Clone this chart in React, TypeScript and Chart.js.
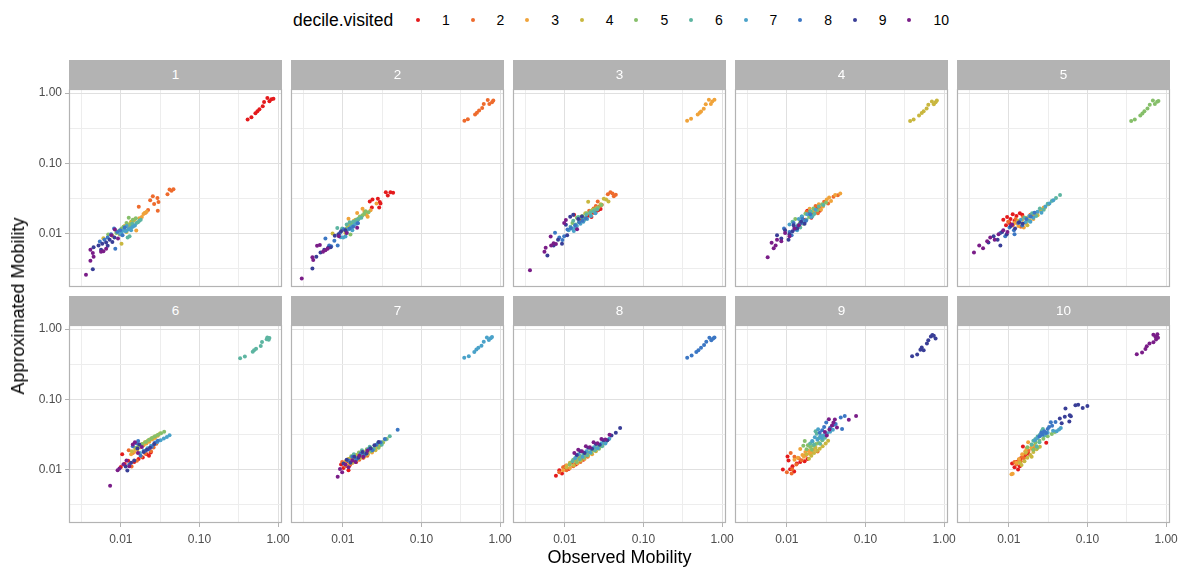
import React, { useEffect, useRef } from "react";
import { Chart, registerables } from "chart.js";

Chart.register(...registerables);

type Pt = [number, number];

// ---- data -------------------------------------------------------------
const decileLabels = ["1", "2", "3", "4", "5", "6", "7", "8", "9", "10"];
const decileColors = [
  "#E41A1C", "#EE6B2D", "#F0A33A", "#C9B73F", "#86BF6A",
  "#5DB5A1", "#4AA2C9", "#3C77C4", "#393E97", "#7A1D88",
];
const panelTitles = ["1", "2", "3", "4", "5", "6", "7", "8", "9", "10"];
const majorTicks = [0.01, 0.1, 1];
const majorTickLabels = ["0.01", "0.10", "1.00"];
const minorTicks = [0.00316, 0.0316, 0.316];
const xLimits = [0.00219, 1.122];
const yLimits = [0.00174, 1.14];

// each panel: one list of [observed, approximated] per visited decile (1..10)
const panel1: Pt[][] = [
  [[0.41,0.42],[0.458,0.453],[0.515,0.515],[0.546,0.551],[0.579,0.587],[0.638,0.647],[0.664,0.746],[0.731,0.849],[0.776,0.762],[0.822,0.813],[0.873,0.831]],
  [[0.0236,0.0297],[0.0255,0.0341],[0.0265,0.0263],[0.0292,0.032],[0.0301,0.0281],[0.0295,0.0211],[0.0222,0.0216],[0.0206,0.0198],[0.0169,0.0241],[0.0392,0.0364],[0.0416,0.0424],[0.0441,0.0406],[0.0467,0.0428]],
  [[0.0151,0.016],[0.0194,0.019],[0.0202,0.0198],[0.0157,0.0111],[0.0135,0.0142],[0.0172,0.0165],[0.0185,0.0172],[0.0112,0.0128],[0.0126,0.0122],[0.0213,0.0205]],
  [[0.006,0.0086],[0.0102,0.0072],[0.0088,0.0105],[0.0097,0.0097],[0.011,0.0118],[0.0125,0.0135],[0.0118,0.0105],[0.0135,0.0148],[0.0078,0.0093],[0.0145,0.0152]],
  [[0.0069,0.0097],[0.0126,0.0168],[0.0095,0.011],[0.0108,0.0125],[0.0118,0.0142],[0.0132,0.0135],[0.0088,0.0102],[0.0142,0.0158],[0.0102,0.0118],[0.0155,0.0165]],
  [[0.0129,0.0092],[0.0122,0.0088],[0.0135,0.0122],[0.0148,0.013],[0.0158,0.0142],[0.0172,0.0152],[0.0179,0.0158],[0.0165,0.0145],[0.0118,0.011],[0.014,0.0138]],
  [[0.0108,0.0112],[0.0115,0.0108],[0.0125,0.0115],[0.0132,0.0118],[0.0142,0.0125],[0.0102,0.0104],[0.0119,0.0128],[0.0135,0.0112],[0.0151,0.013],[0.0098,0.0099]],
  [[0.0054,0.0077],[0.0085,0.0061],[0.0082,0.0118],[0.0075,0.0098],[0.009,0.0105],[0.0098,0.0112],[0.0068,0.0088],[0.0105,0.0095],[0.0112,0.0122],[0.0062,0.0082]],
  [[0.0044,0.0031],[0.0045,0.0064],[0.0052,0.0068],[0.0058,0.0072],[0.0065,0.0075],[0.0072,0.0082],[0.0078,0.0076],[0.0068,0.0067],[0.0083,0.0088],[0.0056,0.0059]],
  [[0.0036,0.0026],[0.0041,0.0059],[0.0041,0.0041],[0.0045,0.0047],[0.0056,0.0055],[0.006,0.0056],[0.0065,0.0061],[0.0076,0.0095],[0.0084,0.0114],[0.0092,0.0085],[0.0044,0.0053]],
];

const panel2: Pt[][] = [
  [[0.022,0.0287],[0.0238,0.0306],[0.0279,0.0313],[0.0295,0.0281],[0.0301,0.0269],[0.029,0.0236],[0.0234,0.0236],[0.0352,0.0389],[0.0373,0.0349],[0.0403,0.0389],[0.0436,0.038]],
  [[0.352,0.402],[0.389,0.424],[0.481,0.493],[0.508,0.525],[0.541,0.562],[0.592,0.61],[0.62,0.698],[0.697,0.796],[0.73,0.695],[0.79,0.74],[0.82,0.78]],
  [[0.0178,0.0226],[0.02,0.0186],[0.0207,0.0174],[0.0268,0.0269],[0.0152,0.0196],[0.0118,0.0163],[0.0165,0.0172],[0.0188,0.0205],[0.0225,0.0215],[0.0138,0.0152]],
  [[0.0074,0.01],[0.0098,0.0112],[0.0115,0.0125],[0.0128,0.0142],[0.0145,0.0158],[0.0162,0.0168],[0.0135,0.0128],[0.0108,0.0102],[0.0152,0.0148],[0.012,0.0134]],
  [[0.0125,0.0097],[0.0212,0.0202],[0.0195,0.0208],[0.0165,0.0175],[0.0178,0.0182],[0.0142,0.0148],[0.0155,0.0162],[0.0132,0.0138],[0.0188,0.0192],[0.0112,0.0118]],
  [[0.0085,0.012],[0.0112,0.0135],[0.0122,0.0145],[0.0135,0.0148],[0.0148,0.0155],[0.0158,0.016],[0.0172,0.0168],[0.0128,0.0128],[0.0142,0.0138],[0.0098,0.0118]],
  [[0.0094,0.0089],[0.0101,0.0088],[0.0108,0.0091],[0.0118,0.0115],[0.0128,0.0122],[0.0138,0.013],[0.0148,0.0138],[0.0112,0.0104],[0.0132,0.0112],[0.0155,0.0142]],
  [[0.006,0.0085],[0.0086,0.0068],[0.0067,0.0068],[0.0071,0.0066],[0.0103,0.0115],[0.0155,0.014],[0.0092,0.0102],[0.0122,0.0118],[0.0078,0.0079],[0.0135,0.0125]],
  [[0.0041,0.0032],[0.0046,0.0047],[0.0058,0.0059],[0.0065,0.0063],[0.007,0.0064],[0.0079,0.0093],[0.0088,0.0098],[0.0095,0.0108],[0.0052,0.0054],[0.0108,0.0112]],
  [[0.003,0.0023],[0.0041,0.0046],[0.0042,0.0042],[0.0047,0.0067],[0.0051,0.0069],[0.0056,0.0055],[0.006,0.0058],[0.0064,0.0061],[0.0089,0.0092],[0.0112,0.0102],[0.0152,0.0121]],
];

const panel3: Pt[][] = [
  [[0.0131,0.0186],[0.0195,0.0178],[0.0212,0.0182],[0.0232,0.0198],[0.0248,0.0205],[0.0265,0.0215],[0.0285,0.0224],[0.0178,0.0162],[0.0158,0.0158],[0.0218,0.0172]],
  [[0.0352,0.0364],[0.038,0.0389],[0.0404,0.0372],[0.042,0.0341],[0.0445,0.0356],[0.0262,0.0287],[0.0273,0.0241],[0.0248,0.0246],[0.0295,0.0257],[0.0204,0.0211],[0.0232,0.0228]],
  [[0.359,0.402],[0.403,0.43],[0.49,0.493],[0.52,0.525],[0.54,0.545],[0.585,0.595],[0.62,0.69],[0.68,0.8],[0.72,0.7],[0.75,0.76],[0.8,0.8]],
  [[0.0313,0.0313],[0.0335,0.0305],[0.0359,0.0287],[0.0198,0.0285],[0.0225,0.0218],[0.0255,0.0232],[0.0182,0.0195],[0.0215,0.0182],[0.0285,0.0262],[0.0162,0.0175]],
  [[0.0142,0.0168],[0.0168,0.0178],[0.019,0.0195],[0.0215,0.0208],[0.024,0.0222],[0.0265,0.0235],[0.0292,0.0255],[0.0152,0.0148],[0.0178,0.0165],[0.0125,0.0142]],
  [[0.0128,0.0152],[0.0148,0.0172],[0.0165,0.0168],[0.0188,0.0185],[0.021,0.0198],[0.0232,0.0208],[0.0258,0.022],[0.0118,0.0125],[0.0138,0.0135],[0.0175,0.0155]],
  [[0.013,0.0109],[0.0122,0.0118],[0.0142,0.0128],[0.0158,0.0138],[0.0172,0.0148],[0.0192,0.0162],[0.0215,0.0178],[0.0112,0.0112],[0.0135,0.0121],[0.0245,0.0195]],
  [[0.0075,0.0103],[0.0093,0.0081],[0.0119,0.012],[0.0135,0.0131],[0.0108,0.0114],[0.0152,0.0145],[0.0168,0.0152],[0.0098,0.0092],[0.0085,0.0088],[0.0185,0.0165]],
  [[0.006,0.0049],[0.0107,0.0095],[0.0103,0.0134],[0.0117,0.0174],[0.0128,0.0185],[0.0148,0.0162],[0.0082,0.0082],[0.0092,0.0072],[0.0072,0.0068],[0.0165,0.0175]],
  [[0.0036,0.003],[0.0055,0.0055],[0.0057,0.0063],[0.0067,0.0068],[0.0072,0.0073],[0.0077,0.0071],[0.0066,0.0091],[0.0103,0.0156],[0.0143,0.0115],[0.0098,0.0142]],
];

const panel4: Pt[][] = [
  [[0.0155,0.0172],[0.0172,0.0158],[0.0192,0.0201],[0.0215,0.0188],[0.0238,0.0225],[0.0262,0.0212],[0.0148,0.0139],[0.0205,0.0168],[0.0182,0.0212],[0.0228,0.0205]],
  [[0.0178,0.0205],[0.0202,0.0182],[0.0232,0.0248],[0.0265,0.0228],[0.0298,0.0285],[0.0335,0.0268],[0.0392,0.0335],[0.0445,0.0352],[0.0248,0.0195],[0.0285,0.0252]],
  [[0.0195,0.0225],[0.0222,0.0205],[0.0255,0.0262],[0.0288,0.0242],[0.0322,0.0305],[0.0365,0.0292],[0.0412,0.0355],[0.0478,0.0372],[0.0272,0.0218],[0.0345,0.0325]],
  [[0.37,0.4],[0.41,0.42],[0.48,0.48],[0.52,0.52],[0.55,0.55],[0.6,0.6],[0.63,0.68],[0.7,0.76],[0.74,0.69],[0.78,0.74],[0.81,0.78]],
  [[0.0128,0.0162],[0.0148,0.0145],[0.0172,0.0192],[0.0192,0.0172],[0.0218,0.0228],[0.0245,0.0215],[0.0282,0.0262],[0.0315,0.0278],[0.0162,0.0138],[0.0205,0.0205]],
  [[0.0118,0.0148],[0.0138,0.0132],[0.0155,0.0175],[0.0178,0.0158],[0.0198,0.0208],[0.0225,0.0192],[0.0255,0.0242],[0.0292,0.0255],[0.0148,0.0122],[0.0212,0.0178]],
  [[0.0108,0.0135],[0.0125,0.0122],[0.0142,0.0162],[0.0162,0.0142],[0.0182,0.0188],[0.0205,0.0172],[0.0232,0.0218],[0.0135,0.0112],[0.0172,0.0152],[0.0155,0.0175]],
  [[0.0092,0.0118],[0.0108,0.0105],[0.0122,0.0142],[0.0138,0.0125],[0.0158,0.0162],[0.0175,0.0152],[0.0198,0.0188],[0.0115,0.0095],[0.0148,0.0138],[0.0128,0.0115]],
  [[0.0075,0.0095],[0.0085,0.0085],[0.0095,0.0112],[0.0108,0.0098],[0.0122,0.0132],[0.0135,0.0118],[0.0152,0.0148],[0.0168,0.0138],[0.0105,0.0082],[0.0118,0.0108]],
  [[0.0057,0.0046],[0.0064,0.0074],[0.0068,0.0062],[0.0075,0.0082],[0.0085,0.0078],[0.0095,0.0102],[0.0108,0.0092],[0.0125,0.0118],[0.0072,0.0068],[0.0142,0.0132]],
];

const panel5: Pt[][] = [
  [[0.0085,0.0158],[0.0095,0.0172],[0.0105,0.0162],[0.0112,0.0188],[0.0125,0.0178],[0.0138,0.0195],[0.0102,0.0142],[0.0118,0.0152],[0.0148,0.0185],[0.0092,0.0132]],
  [[0.0098,0.0148],[0.0112,0.0132],[0.0122,0.0162],[0.0135,0.0148],[0.0152,0.0172],[0.0168,0.0162],[0.0188,0.0185],[0.0142,0.0125],[0.0205,0.0178],[0.0128,0.0142]],
  [[0.0118,0.0142],[0.0132,0.0128],[0.0148,0.0158],[0.0165,0.0142],[0.0182,0.0175],[0.0205,0.0162],[0.0228,0.0198],[0.0255,0.0215],[0.0155,0.0122],[0.0278,0.0235]],
  [[0.0132,0.0152],[0.0148,0.0138],[0.0165,0.0168],[0.0185,0.0155],[0.0208,0.0192],[0.0232,0.0182],[0.0258,0.0218],[0.0288,0.0235],[0.0172,0.0132],[0.0318,0.0262]],
  [[0.36,0.4],[0.4,0.42],[0.47,0.48],[0.5,0.51],[0.53,0.55],[0.58,0.6],[0.62,0.68],[0.68,0.78],[0.72,0.7],[0.77,0.75],[0.8,0.77]],
  [[0.0158,0.0168],[0.0178,0.0152],[0.0198,0.0195],[0.0222,0.0178],[0.0248,0.0228],[0.0278,0.0218],[0.0312,0.0265],[0.0352,0.0292],[0.0398,0.0322],[0.0448,0.0355]],
  [[0.0142,0.0158],[0.0162,0.0145],[0.0182,0.0178],[0.0205,0.0168],[0.0232,0.0205],[0.026,0.0198],[0.0292,0.0242],[0.0328,0.0268],[0.0368,0.0298],[0.0188,0.0148]],
  [[0.0078,0.0102],[0.009,0.0092],[0.0102,0.0122],[0.0116,0.0112],[0.0132,0.0142],[0.0148,0.013],[0.0168,0.0162],[0.019,0.0175],[0.0212,0.0198],[0.0118,0.0098]],
  [[0.0055,0.0075],[0.0064,0.0092],[0.0072,0.0082],[0.0082,0.0105],[0.0094,0.0098],[0.0106,0.0128],[0.012,0.0118],[0.0135,0.0145],[0.015,0.0138],[0.0078,0.0068]],
  [[0.0036,0.0054],[0.0042,0.0068],[0.0047,0.0062],[0.0053,0.0078],[0.0058,0.0088],[0.0066,0.0082],[0.0074,0.0098],[0.0085,0.0112],[0.0096,0.0105],[0.011,0.0135]],
];

const panel6: Pt[][] = [
  [[0.0104,0.0165],[0.01,0.0109],[0.0124,0.0134],[0.0214,0.0165],[0.024,0.0175],[0.019,0.0149],[0.0168,0.0142],[0.0148,0.0128],[0.0112,0.012],[0.0228,0.0158]],
  [[0.0137,0.0111],[0.016,0.0134],[0.0126,0.0188],[0.0222,0.0198],[0.0261,0.0207],[0.0283,0.0234],[0.0182,0.0152],[0.0205,0.0168],[0.0142,0.0172],[0.0242,0.0182]],
  [[0.0295,0.0302],[0.0272,0.0282],[0.025,0.0268],[0.023,0.025],[0.0212,0.0235],[0.0195,0.0222],[0.0178,0.0208],[0.0162,0.0192],[0.0148,0.0178],[0.0135,0.0165]],
  [[0.0315,0.0325],[0.0288,0.0305],[0.0262,0.0288],[0.024,0.0272],[0.022,0.0258],[0.0202,0.0245],[0.0185,0.023],[0.0168,0.0215],[0.0152,0.0198],[0.0138,0.0182]],
  [[0.0356,0.0345],[0.0325,0.0328],[0.0298,0.0312],[0.0272,0.0298],[0.0248,0.0282],[0.0228,0.0265],[0.0208,0.0248],[0.0188,0.0232],[0.0172,0.0222],[0.0158,0.0205]],
  [[0.329,0.385],[0.378,0.405],[0.476,0.476],[0.495,0.5],[0.525,0.523],[0.602,0.572],[0.625,0.653],[0.716,0.715],[0.73,0.76],[0.76,0.705],[0.776,0.745]],
  [[0.0416,0.0309],[0.0385,0.0292],[0.0352,0.0278],[0.032,0.0262],[0.0292,0.0248],[0.0268,0.0232],[0.0242,0.0218],[0.0218,0.0202],[0.0195,0.0185],[0.0175,0.0172]],
  [[0.0166,0.0256],[0.0158,0.0238],[0.0142,0.0215],[0.0205,0.0185],[0.0225,0.0195],[0.0248,0.0212],[0.0128,0.0118],[0.0178,0.0158],[0.0272,0.0242],[0.0295,0.0258]],
  [[0.0121,0.0097],[0.0115,0.0111],[0.0163,0.02],[0.0172,0.0227],[0.0135,0.0125],[0.0148,0.0135],[0.0195,0.0178],[0.0215,0.0192],[0.0235,0.0205],[0.0265,0.0232]],
  [[0.0073,0.0059],[0.0091,0.0098],[0.0096,0.0104],[0.0108,0.0119],[0.0151,0.0244],[0.0142,0.0228],[0.0185,0.021],[0.0118,0.0135],[0.0128,0.0112],[0.0165,0.0172]],
];

const panel7: Pt[][] = [
  [[0.0095,0.0118],[0.0102,0.0105],[0.0112,0.0132],[0.0122,0.0115],[0.0135,0.0142],[0.0148,0.0128],[0.0165,0.0158],[0.0182,0.0148],[0.0205,0.0172],[0.0118,0.0098]],
  [[0.0098,0.0128],[0.0108,0.0112],[0.012,0.0142],[0.0132,0.0125],[0.0148,0.0155],[0.0162,0.0138],[0.0182,0.0168],[0.0205,0.0158],[0.0228,0.0185],[0.0255,0.0198]],
  [[0.0108,0.0132],[0.012,0.0118],[0.0135,0.0152],[0.015,0.0135],[0.0168,0.0168],[0.0188,0.0152],[0.021,0.0185],[0.0235,0.0175],[0.0265,0.0205],[0.0295,0.0222]],
  [[0.0118,0.0142],[0.0132,0.0125],[0.0148,0.0162],[0.0165,0.0145],[0.0185,0.0178],[0.0208,0.0165],[0.0232,0.0198],[0.026,0.0188],[0.0292,0.022],[0.0325,0.0242]],
  [[0.0128,0.0155],[0.0142,0.0138],[0.016,0.0175],[0.018,0.0158],[0.0202,0.0195],[0.0228,0.0182],[0.0255,0.0218],[0.0285,0.0205],[0.032,0.0245],[0.0362,0.0272]],
  [[0.0138,0.0165],[0.0155,0.0148],[0.0175,0.0188],[0.0195,0.0172],[0.022,0.0212],[0.0248,0.0198],[0.0278,0.0238],[0.0312,0.0225],[0.035,0.0268],[0.0395,0.0298]],
  [[0.35,0.39],[0.4,0.41],[0.47,0.47],[0.5,0.51],[0.53,0.54],[0.58,0.58],[0.62,0.66],[0.68,0.76],[0.72,0.7],[0.76,0.74],[0.79,0.77]],
  [[0.0118,0.0135],[0.0132,0.0152],[0.0148,0.0138],[0.0168,0.0168],[0.0188,0.0162],[0.0212,0.0195],[0.0238,0.0188],[0.0268,0.0225],[0.0302,0.0245],[0.0342,0.0272],[0.0498,0.0368]],
  [[0.0102,0.0122],[0.0112,0.0138],[0.0125,0.0125],[0.014,0.0152],[0.0158,0.0148],[0.0178,0.0178],[0.02,0.017],[0.0225,0.0202],[0.0252,0.0222],[0.0285,0.0248]],
  [[0.0086,0.0079],[0.0092,0.0102],[0.0098,0.0092],[0.0108,0.0118],[0.0118,0.0108],[0.0132,0.0135],[0.0145,0.0128],[0.0162,0.0158],[0.0182,0.0152],[0.0205,0.0185]],
];

const panel8: Pt[][] = [
  [[0.0077,0.0082],[0.0085,0.0098],[0.0092,0.0088],[0.0102,0.0112],[0.0112,0.0102],[0.0125,0.0128],[0.0138,0.0118],[0.0155,0.0145],[0.0172,0.0138],[0.0098,0.0108]],
  [[0.0085,0.0092],[0.0095,0.0108],[0.0105,0.0098],[0.0116,0.0122],[0.0128,0.0112],[0.0142,0.0138],[0.0158,0.0128],[0.0175,0.0158],[0.0195,0.0152],[0.0218,0.0178]],
  [[0.0095,0.0098],[0.0105,0.0115],[0.0116,0.0105],[0.013,0.0132],[0.0145,0.0122],[0.016,0.0152],[0.0178,0.0142],[0.0198,0.0172],[0.0222,0.0165],[0.0248,0.0195]],
  [[0.0105,0.0108],[0.0116,0.0125],[0.013,0.0115],[0.0145,0.0142],[0.016,0.0135],[0.0178,0.0165],[0.0198,0.0158],[0.0222,0.0188],[0.0248,0.0182],[0.0278,0.0212]],
  [[0.0115,0.0118],[0.0128,0.0138],[0.0142,0.0128],[0.0158,0.0155],[0.0176,0.0148],[0.0195,0.0178],[0.0218,0.0172],[0.0245,0.0205],[0.0272,0.0198],[0.0305,0.0232]],
  [[0.0125,0.0132],[0.014,0.0152],[0.0155,0.014],[0.0172,0.0168],[0.0192,0.016],[0.0215,0.0195],[0.024,0.0188],[0.0268,0.0222],[0.0298,0.0215],[0.0335,0.0252]],
  [[0.0135,0.0145],[0.015,0.0165],[0.0168,0.0152],[0.0188,0.0182],[0.021,0.0175],[0.0235,0.0208],[0.0262,0.0202],[0.0292,0.0238],[0.0328,0.0235],[0.0368,0.0275]],
  [[0.36,0.39],[0.41,0.42],[0.47,0.47],[0.5,0.5],[0.54,0.54],[0.59,0.59],[0.63,0.66],[0.69,0.75],[0.73,0.69],[0.77,0.73],[0.8,0.76]],
  [[0.0142,0.0162],[0.0158,0.0182],[0.0178,0.0172],[0.0198,0.0205],[0.0222,0.0198],[0.0248,0.0232],[0.0278,0.0225],[0.031,0.0262],[0.0348,0.0262],[0.0392,0.0305],[0.0445,0.0335],[0.0505,0.039]],
  [[0.0132,0.0172],[0.0148,0.0192],[0.0165,0.0182],[0.0185,0.0215],[0.0208,0.0208],[0.0232,0.0245],[0.026,0.0238],[0.0292,0.0272],[0.0328,0.0268],[0.037,0.0312]],
];

const panel9: Pt[][] = [
  [[0.0102,0.0153],[0.0089,0.01],[0.011,0.0101],[0.0124,0.0094],[0.0134,0.0122],[0.0183,0.0141],[0.0105,0.0135],[0.0118,0.0112],[0.0148,0.0128],[0.0168,0.0132]],
  [[0.01,0.0092],[0.0115,0.0088],[0.0117,0.0101],[0.0112,0.0172],[0.0154,0.0136],[0.0246,0.0181],[0.0132,0.0118],[0.0125,0.0152],[0.0142,0.0145],[0.0175,0.0162]],
  [[0.0148,0.0196],[0.0158,0.0162],[0.0172,0.0178],[0.0165,0.0152],[0.0188,0.0185],[0.0205,0.0175],[0.0138,0.0148],[0.0218,0.0192],[0.0125,0.0138],[0.0195,0.0168]],
  [[0.0191,0.0143],[0.0205,0.0158],[0.0222,0.0172],[0.0242,0.0185],[0.0262,0.0198],[0.0285,0.0215],[0.0312,0.0235],[0.0335,0.0258],[0.0178,0.0165],[0.0232,0.0205]],
  [[0.0169,0.0255],[0.0185,0.0222],[0.0198,0.021],[0.0215,0.0218],[0.0235,0.0232],[0.0255,0.024],[0.0178,0.0195],[0.0208,0.0192],[0.0282,0.0262],[0.0162,0.0218]],
  [[0.024,0.0323],[0.0232,0.0352],[0.0265,0.0233],[0.0212,0.0252],[0.0252,0.0278],[0.0285,0.0265],[0.0305,0.0285],[0.0222,0.0225],[0.0198,0.0235],[0.0272,0.0302]],
  [[0.025,0.0376],[0.0227,0.0288],[0.0265,0.0295],[0.0295,0.0308],[0.0325,0.0328],[0.0355,0.0345],[0.0245,0.0265],[0.0278,0.0282],[0.021,0.0255],[0.0385,0.0368]],
  [[0.0485,0.0553],[0.0545,0.0578],[0.0317,0.0469],[0.039,0.0432],[0.0504,0.0377],[0.0298,0.0405],[0.0282,0.0362],[0.0355,0.0395],[0.0418,0.0445],[0.0262,0.0335]],
  [[0.392,0.41],[0.455,0.435],[0.5,0.508],[0.52,0.544],[0.55,0.498],[0.605,0.62],[0.63,0.69],[0.68,0.78],[0.71,0.82],[0.78,0.73],[0.74,0.8]],
  [[0.076,0.058],[0.0614,0.051],[0.0408,0.0516],[0.0342,0.0521],[0.0434,0.0397],[0.0348,0.0372],[0.0322,0.0305],[0.0375,0.0425],[0.0392,0.0468],[0.0305,0.0342]],
];

const panel10: Pt[][] = [
  [[0.011,0.0122],[0.0131,0.01],[0.0151,0.0214],[0.0299,0.0241],[0.0125,0.0128],[0.0142,0.0145],[0.0162,0.0158],[0.0138,0.0112],[0.0178,0.0168],[0.0118,0.0108]],
  [[0.0134,0.0138],[0.0148,0.0152],[0.0125,0.0118],[0.0162,0.0168],[0.0178,0.0185],[0.0198,0.0198],[0.0118,0.0128],[0.0142,0.0132],[0.0155,0.0145],[0.0215,0.0205]],
  [[0.0108,0.0086],[0.0112,0.0087],[0.0176,0.0245],[0.0148,0.0165],[0.0162,0.0182],[0.0135,0.0142],[0.0192,0.0205],[0.0212,0.0218],[0.0125,0.0125],[0.0168,0.0198]],
  [[0.0145,0.0116],[0.0158,0.0132],[0.0172,0.0148],[0.0188,0.0162],[0.0205,0.0178],[0.0225,0.0195],[0.0248,0.0212],[0.0165,0.0175],[0.0138,0.0125],[0.0195,0.0152]],
  [[0.0385,0.0342],[0.0352,0.0322],[0.0312,0.0298],[0.0275,0.0275],[0.0245,0.0258],[0.0218,0.0242],[0.0195,0.0225],[0.0172,0.0208],[0.0232,0.0205],[0.0205,0.0192]],
  [[0.0271,0.0377],[0.0262,0.0355],[0.0248,0.0312],[0.0232,0.0295],[0.0218,0.0272],[0.0205,0.0258],[0.0195,0.0228],[0.0285,0.0305],[0.0245,0.0245],[0.0225,0.0215]],
  [[0.0458,0.0392],[0.0435,0.0372],[0.0405,0.0352],[0.0275,0.0345],[0.0288,0.0325],[0.0252,0.0302],[0.0232,0.0282],[0.0215,0.0262],[0.0312,0.0335],[0.0365,0.0358]],
  [[0.0392,0.0477],[0.0342,0.047],[0.0298,0.0331],[0.0312,0.0378],[0.0282,0.0352],[0.0268,0.0312],[0.0325,0.0405],[0.0258,0.0335],[0.0355,0.0422],[0.0245,0.0298]],
  [[0.0525,0.0738],[0.0703,0.0822],[0.0762,0.0838],[0.087,0.0755],[0.0998,0.0802],[0.0595,0.0591],[0.0615,0.0572],[0.0515,0.0565],[0.0588,0.0484],[0.0445,0.0532],[0.047,0.0455]],
  [[0.424,0.438],[0.495,0.462],[0.546,0.52],[0.568,0.57],[0.615,0.623],[0.69,0.65],[0.69,0.826],[0.732,0.773],[0.775,0.845],[0.745,0.71],[0.79,0.752]],
];

const panels = [panel1, panel2, panel3, panel4, panel5, panel6, panel7, panel8, panel9, panel10];

// ---- layout -----------------------------------------------------------
const FONT = "'Liberation Sans', Arial, Helvetica, sans-serif";
const COL_LEFT = [69, 291, 513, 735, 957];
const PLOT_TOP = [89, 325];
const PLOT_W = 213;
const PLOT_H = 198;
const STRIP_H = 29;
const MARGIN = 50;
const Y_AXIS_W = 45;
const X_AXIS_H = 30;

const gridValues = [...minorTicks, ...majorTicks].sort((a, b) => a - b);
const isMajor = (v: number) => majorTicks.some((m) => Math.abs(v / m - 1) < 1e-6);
const tickLabel = (v: number) => {
  const i = majorTicks.findIndex((m) => Math.abs(v / m - 1) < 1e-6);
  return i >= 0 ? majorTickLabels[i] : "";
};

const framePlugin = {
  id: "panelFrame",
  afterDatasetsDraw(chart: any) {
    const { ctx, chartArea: a } = chart;
    ctx.save();
    ctx.strokeStyle = "#B3B3B3";
    ctx.lineWidth = 1.2;
    ctx.strokeRect(a.left + 0.5, a.top + 0.5, a.right - a.left - 1, a.bottom - a.top - 1);
    ctx.restore();
  },
};

function axisOptions(show: boolean, limits: number[], horizontal: boolean) {
  return {
    type: "logarithmic" as const,
    min: limits[0],
    max: limits[1],
    bounds: "data" as const,
    afterBuildTicks: (scale: any) => {
      scale.ticks = gridValues.map((v) => ({ value: v }));
    },
    afterFit: (scale: any) => {
      if (horizontal) scale.height = show ? X_AXIS_H : 0;
      else scale.width = show ? Y_AXIS_W : 0;
    },
    border: { display: false },
    grid: {
      color: (c: any) => (c.tick && isMajor(c.tick.value) ? "#E0E0E0" : "#EDEDED"),
      lineWidth: 1,
      drawTicks: show,
      tickLength: 4,
      tickWidth: 1,
      tickColor: (c: any) => (c.tick && isMajor(c.tick.value) ? "#B3B3B3" : "rgba(0,0,0,0)"),
    },
    ticks: {
      display: show,
      autoSkip: false,
      maxRotation: 0,
      padding: horizontal ? 5 : 3,
      color: "#4D4D4D",
      font: { family: FONT, size: 12 },
      callback: (v: any) => tickLabel(Number(v)),
    },
  };
}

function Panel({ index }: { index: number }) {
  const ref = useRef<HTMLCanvasElement | null>(null);
  const col = index % 5;
  const row = Math.floor(index / 5);
  const showY = col === 0;
  const showX = row === 1;

  useEffect(() => {
    if (!ref.current) return;
    const chart = new Chart(ref.current, {
      type: "scatter",
      data: {
        datasets: panels[index].map((pts, i) => ({
          label: decileLabels[i],
          data: pts.map(([x, y]) => ({ x, y })),
          backgroundColor: decileColors[i],
          pointRadius: 2,
          pointBorderWidth: 0,
          pointHoverRadius: 2,
          order: 10 - i,
        })),
      },
      options: {
        animation: false,
        responsive: false,
        devicePixelRatio: 1,
        events: [],
        layout: {
          padding: {
            left: MARGIN - (showY ? Y_AXIS_W : 0),
            right: MARGIN,
            top: MARGIN,
            bottom: MARGIN - (showX ? X_AXIS_H : 0),
          },
        },
        plugins: { legend: { display: false }, tooltip: { enabled: false } },
        scales: {
          x: axisOptions(showX, xLimits, true),
          y: axisOptions(showY, yLimits, false),
        },
      } as any,
      plugins: [framePlugin],
    });
    return () => chart.destroy();
  }, [index]);

  return (
    <canvas
      ref={ref}
      width={PLOT_W + 2 * MARGIN}
      height={PLOT_H + 2 * MARGIN}
      style={{
        position: "absolute",
        left: COL_LEFT[col] - MARGIN,
        top: PLOT_TOP[row] - MARGIN,
        width: PLOT_W + 2 * MARGIN,
        height: PLOT_H + 2 * MARGIN,
      }}
    />
  );
}

function Strip({ index }: { index: number }) {
  const col = index % 5;
  const row = Math.floor(index / 5);
  return (
    <div
      style={{
        position: "absolute",
        left: COL_LEFT[col],
        top: PLOT_TOP[row] - STRIP_H,
        width: PLOT_W,
        height: STRIP_H,
        background: "#B3B3B3",
        color: "#FFFFFF",
        fontFamily: FONT,
        fontSize: 13.5,
        display: "flex",
        alignItems: "center",
        justifyContent: "center",
      }}
    >
      {panelTitles[index]}
    </div>
  );
}

function Legend() {
  return (
    <div style={{ position: "absolute", left: 0, top: 0, width: 1190, height: 40, fontFamily: FONT }}>
      <div style={{ position: "absolute", left: 293, top: 10, fontSize: 17.5, lineHeight: "20px", color: "#000" }}>
        decile.visited
      </div>
      {decileLabels.map((lab, i) => {
        const cx = 418 + 54.6 * i;
        return (
          <React.Fragment key={lab}>
            <div
              style={{
                position: "absolute",
                left: cx - 2,
                top: 18,
                width: 4,
                height: 4,
                borderRadius: 2,
                background: decileColors[i],
              }}
            />
            <div style={{ position: "absolute", left: cx + 24, top: 11, fontSize: 14, lineHeight: "18px", color: "#000" }}>
              {lab}
            </div>
          </React.Fragment>
        );
      })}
    </div>
  );
}

export default function App() {
  return (
    <div
      style={{
        position: "absolute",
        left: 0,
        top: 0,
        width: 1190,
        height: 572,
        background: "#FFFFFF",
        overflow: "hidden",
      }}
    >
      <Legend />
      {panels.map((_, i) => (
        <Panel key={"p" + i} index={i} />
      ))}
      {panels.map((_, i) => (
        <Strip key={"s" + i} index={i} />
      ))}
      <div
        style={{
          position: "absolute",
          left: 69,
          width: 1101,
          top: 547,
          textAlign: "center",
          fontFamily: FONT,
          fontSize: 18,
          lineHeight: "20px",
          color: "#000",
        }}
      >
        Observed Mobility
      </div>
      <div
        style={{
          position: "absolute",
          left: 18,
          top: 306,
          transform: "translate(-50%, -50%) rotate(-90deg)",
          whiteSpace: "nowrap",
          fontFamily: FONT,
          fontSize: 18,
          lineHeight: "20px",
          color: "#000",
        }}
      >
        Approximated Mobility
      </div>
    </div>
  );
}
